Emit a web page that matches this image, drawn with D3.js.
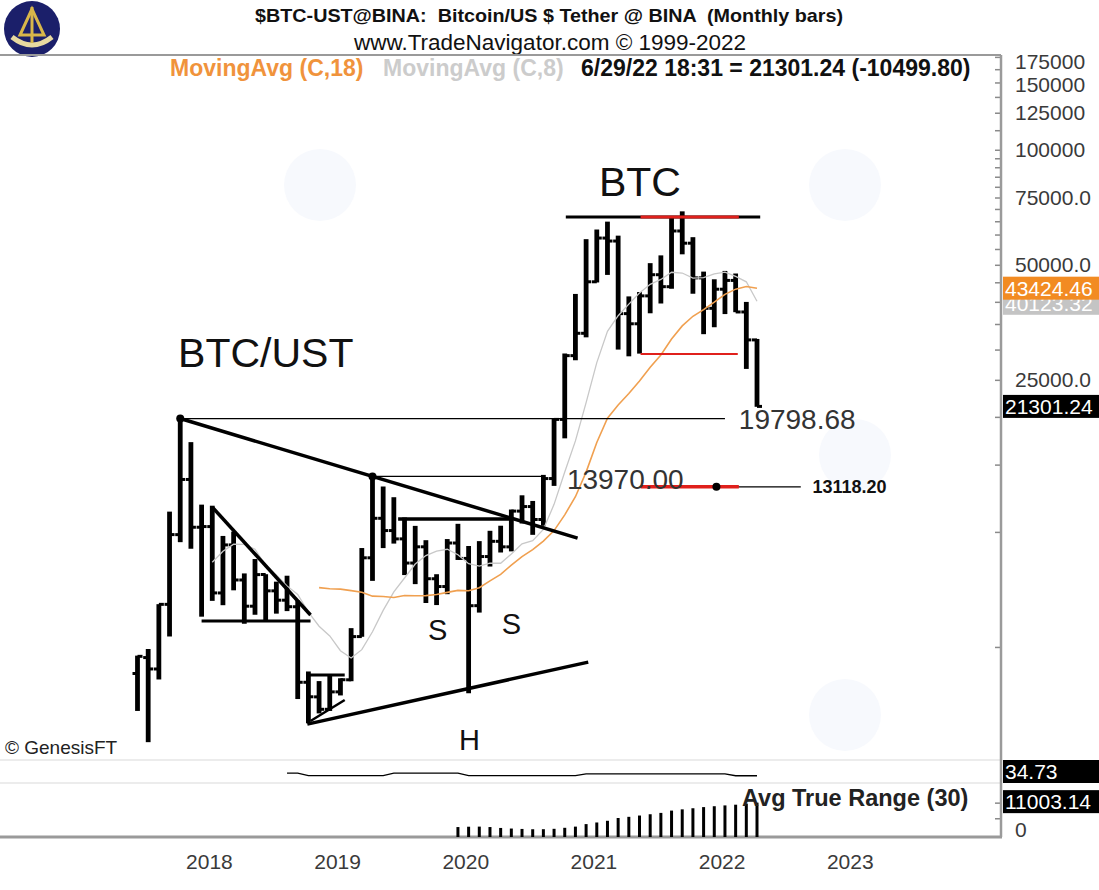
<!DOCTYPE html>
<html>
<head>
<meta charset="utf-8">
<script src="https://cdn.jsdelivr.net/npm/d3@7"></script>
<style>
  body { margin: 0; background: #fff; }
  svg { display: block; }
  text { font-family: "Liberation Sans", Arial, sans-serif; white-space: pre; }
</style>
</head>
<body>
<div id="chart"></div>
<script>
// monthly bars, Binance BTC/USDT
const months = [
  "2017-08","2017-09","2017-10","2017-11","2017-12",
  "2018-01","2018-02","2018-03","2018-04","2018-05","2018-06","2018-07","2018-08","2018-09","2018-10","2018-11","2018-12",
  "2019-01","2019-02","2019-03","2019-04","2019-05","2019-06","2019-07","2019-08","2019-09","2019-10","2019-11","2019-12",
  "2020-01","2020-02","2020-03","2020-04","2020-05","2020-06","2020-07","2020-08","2020-09","2020-10","2020-11","2020-12",
  "2021-01","2021-02","2021-03","2021-04","2021-05","2021-06","2021-07","2021-08","2021-09","2021-10","2021-11","2021-12",
  "2022-01","2022-02","2022-03","2022-04","2022-05","2022-06"
];
const opens = [
  4261, 4690, 4378, 6463, 9837,
  13716, 10285, 10326, 6922, 9246, 7485, 6391, 7736, 7011, 6627, 6370, 4041,
  3701, 3434, 3814, 4102, 5322, 8555, 10854, 10081, 9589, 8290, 9141, 7541,
  7195, 9352, 8524, 6412, 8620, 9448, 9138, 11335, 11650, 10777, 13791, 19696,
  28924, 33093, 45134, 58739, 57697, 37254, 35045, 41462, 47101, 43820, 61300, 56951,
  46217, 38467, 43160, 45510, 37631, 31801
];
const highs = [
  4745, 4939, 6470, 11300, 19798.68,
  17176, 11786, 11710, 9760, 10020, 7787, 8492, 7750, 7410, 7680, 6615, 4313,
  4070, 4198, 4140, 5600, 9074, 13970, 13147, 12325, 10906, 10370, 9513, 7750,
  9578, 10500, 9188, 9460, 10067, 10380, 11444, 12468, 12051, 14100, 19863, 29300,
  41950, 58353, 61844, 64854, 59600, 41330, 42448, 50500, 52920, 67000, 69000, 59054,
  47990, 45821, 48190, 47444, 39980, 31986
];
const lows = [
  3400, 2817, 4110, 5325, 9400,
  9035, 6000, 6600, 6430, 7033, 5750, 6070, 5880, 6111, 6205, 3653, 3156,
  3350, 3400, 3733, 4067, 5316, 7445, 9071, 9320, 7710, 7300, 6515, 6435,
  6871, 8445, 3782, 6150, 8117, 8833, 8893, 10519, 9825, 10374, 13195, 17572,
  28130, 32296, 44951, 47044, 30000, 28805, 29278, 37333, 39600, 43283, 53257, 42000,
  32917, 34322, 37155, 37578, 26700, 21250
];
const closes = [
  4725, 4379, 6463, 9839, 13716,
  10285, 10327, 6924, 9246, 7485, 6391, 7731, 7011, 6627, 6372, 4041, 3703,
  3434, 3814, 4104, 5321, 8555, 10854, 10081, 9587, 8289, 9141, 7542, 7195,
  9353, 8524, 6410, 8620, 9448, 9139, 11335, 11650, 10777, 13791, 19696, 28924,
  33093, 45136, 58741, 57694, 37254, 35045, 41462, 47101, 43824, 61300, 56951, 46217,
  38467, 43160, 45510, 37631, 31801.04, 21301.24
];
// small upper sub-panel study, Oct 2018 .. Jun 2022
const studyStart = 14;
const studyValues = [
  36.5, 36.5,
  34.8, 34.8, 34.8, 34.8, 34.8, 34.8, 34.8, 34.8,
  36.5, 36.5, 36.5, 36.5, 36.5, 36.5, 36.5,
  34.8, 34.8, 34.8, 34.8, 34.8, 34.8, 34.8, 34.8, 34.8, 34.8, 34.8,
  36.0, 36.0, 36.0, 36.0, 36.0, 36.0, 36.0, 36.0, 36.0, 36.0, 36.0, 36.0, 36.0, 36.0,
  34.73, 34.73, 34.73
];
const yearTicks = [5, 17, 29, 41, 53, 65];
const yearLabels = ["2018", "2019", "2020", "2021", "2022", "2023"];
const priceLabels = [175000, 150000, 125000, 100000, 75000, 50000, 25000];

const W = 1099, H = 890;
const axisX = 1001;
const svg = d3.select('#chart').append('svg')
    .attr('width', W).attr('height', H)
    .attr('viewBox', [0, 0, W, H].join(' '));

// scales
const x = d3.scaleLinear().domain([0, 58]).range([137.5, 757]);
const y = d3.scaleLog().domain([2530, 177000]).range([760, 55]);
const yAtr = d3.scaleLinear().domain([0, 17300]).range([837, 783]);
const yStudy = d3.scaleLinear().domain([30, 45]).range([783, 760]);

// indicators
function movingAvg(vals, n) {
    return vals.map((v, i) => i < n - 1 ? null : d3.mean(vals.slice(i - n + 1, i + 1)));
}
const ma18 = movingAvg(closes, 18);
const ma8 = movingAvg(closes, 8);
const tr = closes.map((c, i) => i === 0 ? null :
    Math.max(highs[i] - lows[i], Math.abs(highs[i] - closes[i - 1]), Math.abs(lows[i] - closes[i - 1])));
const atr = tr.map((t, i) => i < 30 ? null : d3.mean(tr.slice(i - 29, i + 1)));

// very faint watermark logos
const marks = [[320, 185], [845, 185], [855, 455], [845, 715]];
svg.append('g').selectAll('circle').data(marks).join('circle')
    .attr('cx', d => d[0]).attr('cy', d => d[1]).attr('r', 36)
    .attr('fill', '#f7f9fd');

// header
const logo = svg.append('g').attr('transform', 'translate(32,29)');
logo.append('circle').attr('r', 28).attr('fill', '#1b1f6a');
logo.append('path').attr('d', 'M0,-20 L-12,6 L12,6 Z').attr('fill', 'none')
    .attr('stroke', '#d8b64a').attr('stroke-width', 3);
logo.append('path').attr('d', 'M-20,8 Q0,24 20,8').attr('fill', 'none')
    .attr('stroke', '#e8d9a0').attr('stroke-width', 5);
logo.append('line').attr('x1', 0).attr('x2', 0).attr('y1', -22).attr('y2', 14)
    .attr('stroke', '#d8b64a').attr('stroke-width', 3);

svg.append('text').attr('x', 549).attr('y', 22).attr('text-anchor', 'middle')
    .attr('font-size', 19).attr('font-weight', 'bold').attr('fill', '#111')
    .attr('textLength', 588).attr('lengthAdjust', 'spacingAndGlyphs')
    .text('$BTC-UST@BINA:  Bitcoin/US $ Tether @ BINA  (Monthly bars)');
svg.append('text').attr('x', 550).attr('y', 50).attr('text-anchor', 'middle')
    .attr('font-size', 22.5).attr('fill', '#111')
    .text('www.TradeNavigator.com © 1999-2022');

svg.append('line').attr('x1', 0).attr('x2', axisX).attr('y1', 55).attr('y2', 55)
    .attr('stroke', '#9a9a9a').attr('stroke-width', 2);

const legend = svg.append('text').attr('y', 76).attr('font-size', 23).attr('font-weight', 'bold');
legend.append('tspan').attr('x', 170).attr('fill', '#f0933c').text('MovingAvg (C,18)');
legend.append('tspan').attr('x', 383).attr('fill', '#cccccc').text('MovingAvg (C,8)');
legend.append('tspan').attr('x', 581).attr('fill', '#111').text('6/29/22 18:31 = 21301.24 (-10499.80)');

// panel separators
[760, 783].forEach(v => svg.append('line').attr('x1', 0).attr('x2', axisX)
    .attr('y1', v).attr('y2', v).attr('stroke', '#e6e6e6').attr('stroke-width', 1.5));

// right axis
const minorTicks = d3.range(5000, 100001, 5000).concat([112500, 125000, 137500, 150000, 162500, 175000]);
svg.append('g').attr('transform', `translate(${axisX},0)`)
    .call(d3.axisLeft(y).tickValues(minorTicks).tickSize(6).tickFormat(''))
    .call(g => g.select('.domain').remove())
    .call(g => g.selectAll('line').attr('stroke', '#8a8a8a').attr('stroke-width', 1.5));
svg.append('g').attr('transform', `translate(${axisX},0)`)
    .call(d3.axisLeft(yAtr).tickValues([6000, 11003]).tickSize(6).tickFormat(''))
    .call(g => g.select('.domain').remove())
    .call(g => g.selectAll('line').attr('stroke', '#8a8a8a').attr('stroke-width', 1.5));
svg.append('line').attr('x1', axisX).attr('x2', axisX).attr('y1', 55).attr('y2', 837)
    .attr('stroke', '#9a9a9a').attr('stroke-width', 2.5);
svg.append('line').attr('x1', 0).attr('x2', axisX + 1).attr('y1', 837).attr('y2', 837)
    .attr('stroke', '#9a9a9a').attr('stroke-width', 3);

// 175000 sits at the top edge, nudge it clear of 150000
svg.append('g').selectAll('text').data(priceLabels).join('text')
    .attr('x', 1015).attr('y', d => d === 175000 ? 61 : y(d) + (d === 150000 ? 2 : 0)).attr('dy', '0.36em')
    .attr('font-size', 21).attr('fill', '#3a3a3a')
    .text(d => d >= 100000 ? d3.format('d')(d) : d3.format('.1f')(d));
svg.append('text').attr('x', 1015).attr('y', 829).attr('dy', '0.36em')
    .attr('font-size', 21).attr('fill', '#3a3a3a').text('0');

function valueBox(yy, label, bg, fg) {
    svg.append('rect').attr('x', 1003).attr('y', yy - 11.5).attr('width', 96).attr('height', 23).attr('fill', bg);
    svg.append('text').attr('x', 1005).attr('y', yy).attr('dy', '0.36em')
        .attr('font-size', 21).attr('fill', fg).text(label);
}
valueBox(y(ma8[ma8.length - 1]) + 2, d3.format('.2f')(40123.32), '#c4c4c4', '#fff');
valueBox(y(ma18[ma18.length - 1]), d3.format('.2f')(43424.46), '#f28b22', '#fff');
valueBox(y(closes[closes.length - 1]), '21301.24', '#000', '#fff');
valueBox(771.5, '34.73', '#000', '#fff');
valueBox(yAtr(atr[atr.length - 1]) - 1, '11003.14', '#000', '#fff');

// bottom axis
svg.append('g').attr('transform', 'translate(18,837)')
    .call(d3.axisBottom(x).tickValues(yearTicks).tickSize(0).tickPadding(17)
        .tickFormat((d, i) => yearLabels[i]))
    .call(g => g.select('.domain').remove())
    .call(g => g.selectAll('text').attr('font-size', 21).attr('fill', '#3a3a3a')
        .attr('font-family', '"Liberation Sans", Arial, sans-serif'));

// price bars
const bars = svg.append('g').selectAll('g').data(months).join('g');
bars.append('line')
    .attr('x1', (d, i) => x(i)).attr('x2', (d, i) => x(i))
    .attr('y1', (d, i) => y(highs[i])).attr('y2', (d, i) => y(lows[i]))
    .attr('stroke', '#000').attr('stroke-width', 4.8);
bars.append('line')
    .attr('x1', (d, i) => x(i) - 5).attr('x2', (d, i) => x(i))
    .attr('y1', (d, i) => y(opens[i])).attr('y2', (d, i) => y(opens[i]))
    .attr('stroke', '#000').attr('stroke-width', 3);
bars.append('line')
    .attr('x1', (d, i) => x(i)).attr('x2', (d, i) => x(i) + 5)
    .attr('y1', (d, i) => y(closes[i])).attr('y2', (d, i) => y(closes[i]))
    .attr('stroke', '#000').attr('stroke-width', 3);

// moving averages
const maLine = d3.line().defined(d => d != null).x((d, i) => x(i)).y(d => y(d));
svg.append('path').datum(ma8).attr('d', maLine)
    .attr('fill', 'none').attr('stroke', '#c8c8c8').attr('stroke-width', 1.3);
svg.append('path').datum(ma18).attr('d', maLine)
    .attr('fill', 'none').attr('stroke', '#f0a050').attr('stroke-width', 1.6);

// study panel
svg.append('path').datum(studyValues)
    .attr('d', d3.line().x((d, i) => x(i + studyStart)).y(d => yStudy(d)))
    .attr('fill', 'none').attr('stroke', '#000').attr('stroke-width', 1.3);

// ATR panel
svg.append('g').selectAll('line').data(atr.map((v, i) => [i, v]).filter(d => d[1] != null)).join('line')
    .attr('x1', d => x(d[0])).attr('x2', d => x(d[0]))
    .attr('y1', yAtr(0)).attr('y2', d => yAtr(d[1]))
    .attr('stroke', '#000').attr('stroke-width', 3);
svg.append('text').attr('x', 742).attr('y', 806).attr('font-size', 23.5).attr('font-weight', 'bold')
    .attr('fill', '#222').text('Avg True Range (30)');

// drawn annotations: [fromIndex, fromPrice, toIndex, toPrice, colour, width]
const drawn = [
    [4, 19798.68, 55, 19798.68, '#000', 1.3],
    [4, 19798.68, 41.2, 9635, '#000', 3.5],
    [22, 13970, 37.8, 13970, '#000', 1.3],
    [24.4, 10804, 35.1, 10804, '#000', 3.5],
    [7, 11615, 16.2, 6060, '#000', 3.5],
    [6, 5843, 16.2, 5843, '#000', 3],
    [15.9, 3141, 42.2, 4564, '#000', 3.5],
    [15.8, 4220, 19.4, 4220, '#000', 3],
    [16.2, 3200, 19.4, 3631, '#000', 2.5],
    [40.1, 66670, 58.3, 66670, '#000', 3],
    [47.1, 66670, 56.3, 66670, '#e0201c', 3],
    [47.1, 29210, 56.2, 29210, '#e0201c', 1.8],
    [47.1, 13118.2, 62.1, 13118.2, '#000', 1.3],
    [47.1, 13118.2, 56.3, 13118.2, '#e0201c', 3.5]
];
svg.append('g').selectAll('line').data(drawn).join('line')
    .attr('x1', d => x(d[0])).attr('y1', d => y(d[1]))
    .attr('x2', d => x(d[2])).attr('y2', d => y(d[3]))
    .attr('stroke', d => d[4]).attr('stroke-width', d => d[5]);
svg.append('g').selectAll('circle').data([[4, 19798.68], [22, 13970], [54.2, 13118.2]]).join('circle')
    .attr('cx', d => x(d[0])).attr('cy', d => y(d[1])).attr('r', 4).attr('fill', '#000');

// annotation texts: [text, index, price at baseline, size, weight, colour]
const notes = [
    ['BTC/UST', 3.8, 27000, 41, 'normal', '#111'],
    ['BTC', 43.2, 75700, 41, 'normal', '#111'],
    ['19798.68', 56.3, 18600, 28, 'normal', '#333'],
    ['13970.00', 40.2, 12950, 28, 'normal', '#333'],
    ['13118.20', 63.2, 12650, 18, 'bold', '#111'],
    ['S', 27.2, 5210, 29, 'normal', '#111'],
    ['S', 34.1, 5410, 29, 'normal', '#111'],
    ['H', 30.1, 2690, 29, 'normal', '#111']
];
svg.append('g').selectAll('text').data(notes).join('text')
    .attr('x', d => x(d[1])).attr('y', d => y(d[2]))
    .attr('font-size', d => d[3]).attr('font-weight', d => d[4]).attr('fill', d => d[5])
    .text(d => d[0]);
svg.append('text').attr('x', 5).attr('y', 754).attr('font-size', 19).attr('fill', '#222')
    .text('© GenesisFT');
</script>
</body>
</html>
